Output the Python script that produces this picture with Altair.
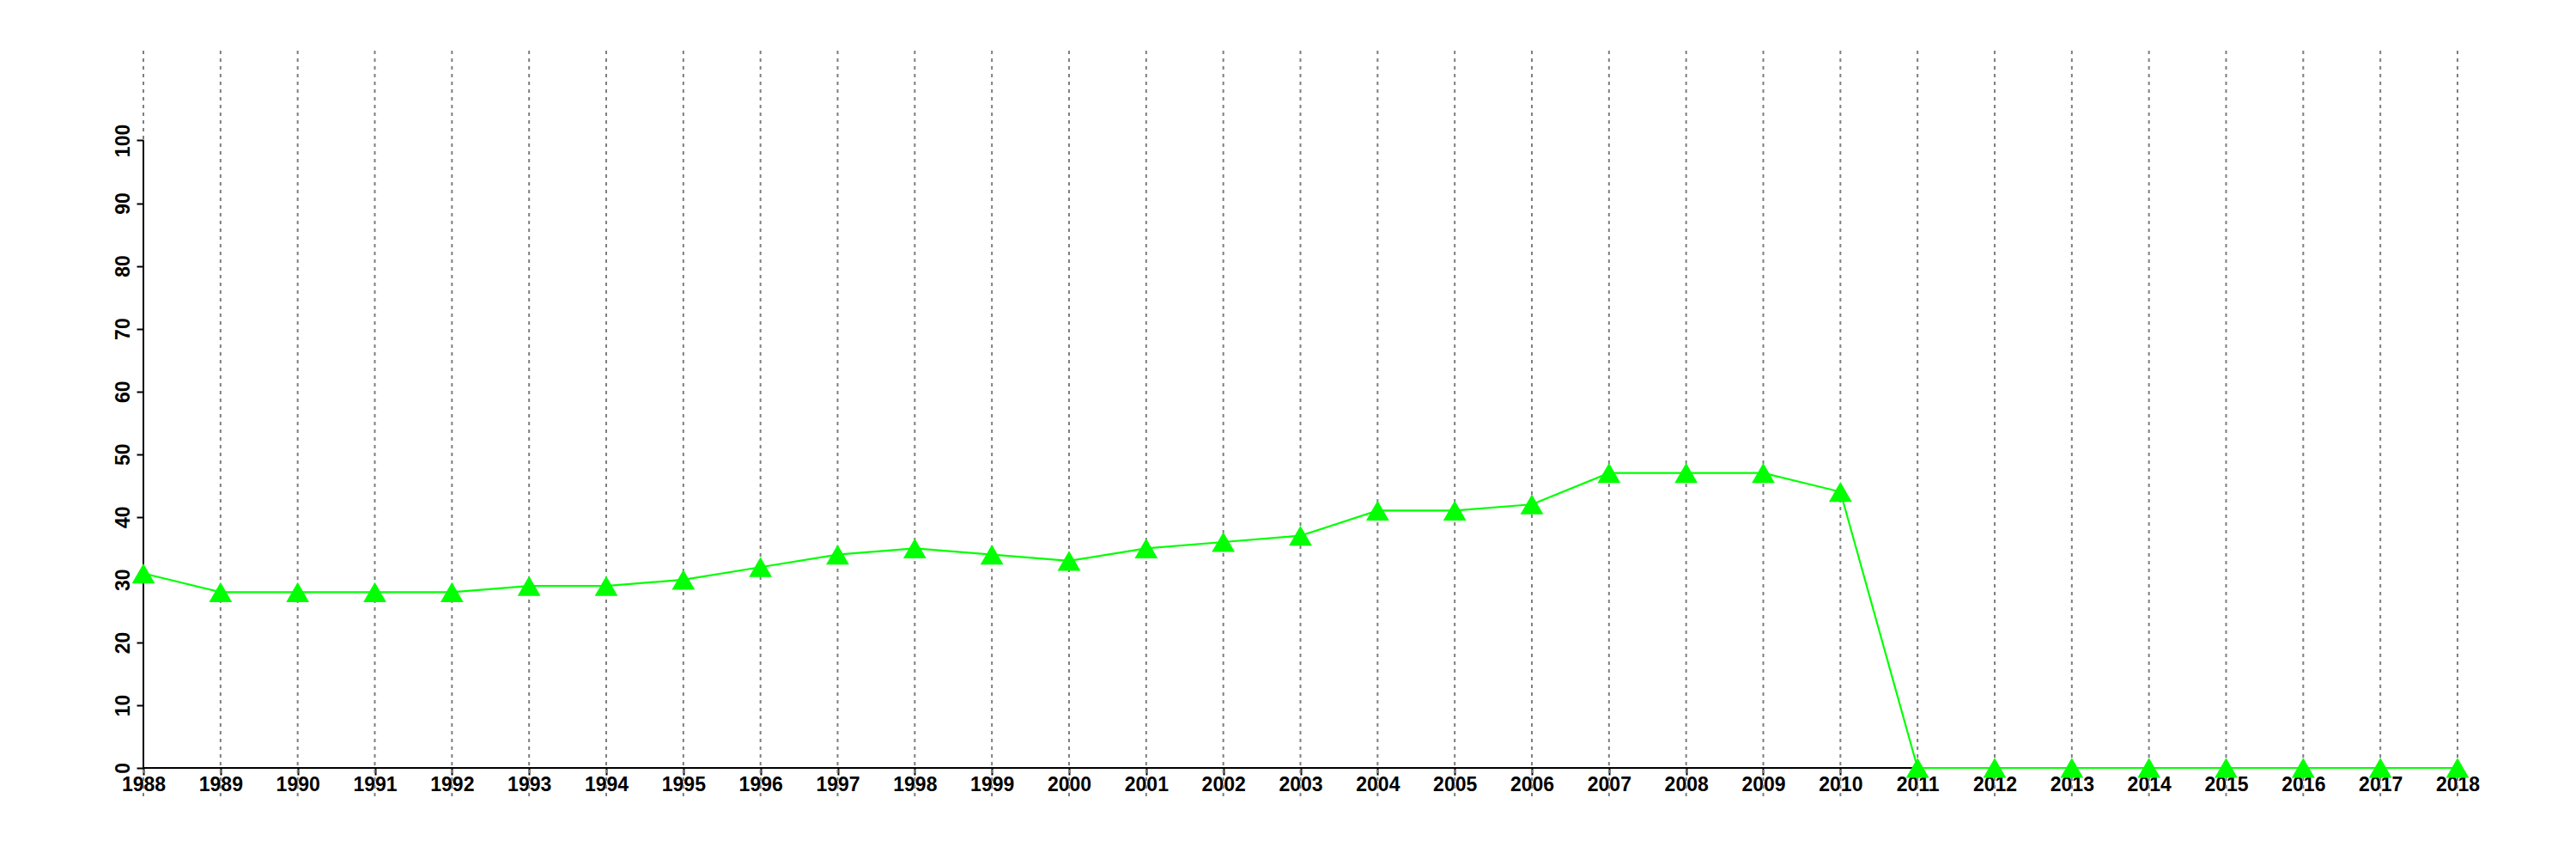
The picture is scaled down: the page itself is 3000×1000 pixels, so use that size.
import altair as alt
import pandas as pd

years = list(range(1988, 2019))
values = [31, 28, 28, 28, 28, 29, 29, 30, 32, 34, 35, 34, 33, 35, 36, 37,
          41, 41, 42, 47, 47, 47, 44, 0, 0, 0, 0, 0, 0, 0, 0]
y_ticks = list(range(0, 101, 10))

df = pd.DataFrame({"year": years, "value": values})

FONT = "Liberation Sans"

xscale = alt.Scale(domain=[1988, 2018], nice=False, zero=False)
yscale = alt.Scale(domain=[-4.52, 114.3], nice=False, zero=False)

xaxis = alt.Axis(values=years, format="d", title=None, grid=False, domain=False,
                 offset=-33, tickSize=8, tickWidth=2, tickColor="black",
                 labelFont=FONT, labelFontSize=23, labelFontWeight="bold",
                 labelColor="black", labelPadding=0, labelOverlap=False,
                 labelFlush=False)
yaxis = alt.Axis(values=y_ticks, title=None, grid=False, domain=False,
                 tickSize=8, tickWidth=2, tickColor="black",
                 labelFont=FONT, labelFontSize=23, labelFontWeight="bold",
                 labelColor="black", labelAngle=-90, labelAlign="center",
                 labelBaseline="bottom", labelPadding=4, labelOverlap=False)

base = alt.Chart(df)

grid = base.mark_rule(color="#7f7f7f", strokeDash=[4, 5], strokeWidth=2,
                      strokeCap="butt").encode(
    x=alt.X("year:Q", scale=xscale, axis=xaxis)
)

yline = alt.Chart(pd.DataFrame({"x": [1988], "y0": [0], "y1": [100]})).mark_rule(
    color="black", strokeWidth=2).encode(
    x=alt.X("x:Q", scale=xscale),
    y=alt.Y("y0:Q", scale=yscale, axis=yaxis),
    y2="y1:Q",
)

xline = alt.Chart(pd.DataFrame({"x0": [1988], "x1": [2018], "y": [0]})).mark_rule(
    color="black", strokeWidth=2).encode(
    x=alt.X("x0:Q", scale=xscale),
    x2="x1:Q",
    y=alt.Y("y:Q", scale=yscale),
)

line = base.mark_line(color="#00ff00", strokeWidth=2.2).encode(
    x=alt.X("year:Q", scale=xscale),
    y=alt.Y("value:Q", scale=yscale),
)

pts = base.mark_point(shape="triangle-up", filled=True, size=720,
                      color="#00ff00", opacity=1).encode(
    x=alt.X("year:Q", scale=xscale),
    y=alt.Y("value:Q", scale=yscale),
)

chart = alt.layer(grid, yline, xline, line, pts).properties(
    width=2695, height=868,
    autosize=alt.AutoSizeParams(type="none"),
    padding={"left": 159, "top": 51, "right": 120, "bottom": 60},
    view=alt.ViewBackground(strokeWidth=0, strokeOpacity=0),
).configure_view(strokeWidth=0, strokeOpacity=0).configure(background="white")

chart.save("out.html", embed_options={"renderer": "svg", "actions": False})
